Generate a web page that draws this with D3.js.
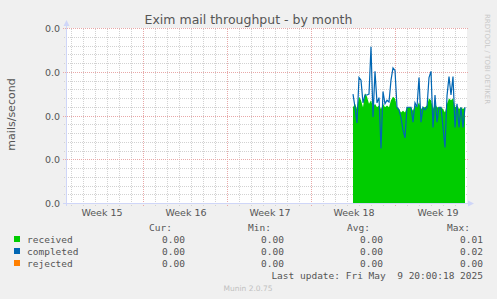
<!DOCTYPE html>
<html>
<head>
<meta charset="utf-8">
<script src="https://cdn.jsdelivr.net/npm/d3@7"></script>
<style>
body { margin: 0; background: #f0f0f0; }
svg { display: block; font-family: "DejaVu Sans", sans-serif; }
.mono { font-family: "DejaVu Sans Mono", monospace; font-size: 9.5px; fill: #555; white-space: pre; }
</style>
</head>
<body>
<div id="chart"></div>
<script>
// mails/second, one value every 4 hours from the first sample on
const received = [
  0.0110, 0.0114, 0.0108, 0.0122, 0.0118, 0.0110, 0.0126, 0.0122, 0.0114, 0.0118,
  0.0110, 0.0114, 0.0110, 0.0112, 0.0108, 0.0114, 0.0110, 0.0112, 0.0110, 0.0118,
  0.0122, 0.0120, 0.0110, 0.0108, 0.0104, 0.0106, 0.0104, 0.0110, 0.0110, 0.0110,
  0.0106, 0.0112, 0.0110, 0.0116, 0.0108, 0.0110, 0.0110, 0.0112, 0.0120, 0.0118,
  0.0108, 0.0114, 0.0110, 0.0110, 0.0110, 0.0108, 0.0104, 0.0114, 0.0120, 0.0118,
  0.0120, 0.0110, 0.0112, 0.0108, 0.0110, 0.0108, 0.0110
];
const completed = [
  0.0125, 0.0110, 0.0092, 0.0144, 0.0141, 0.0115, 0.0124, 0.0124, 0.0125, 0.0179,
  0.0099, 0.0151, 0.0115, 0.0121, 0.0063, 0.0128, 0.0114, 0.0118, 0.0116, 0.0141,
  0.0155, 0.0152, 0.0110, 0.0107, 0.0098, 0.0084, 0.0075, 0.0110, 0.0110, 0.0110,
  0.0093, 0.0115, 0.0110, 0.0144, 0.0093, 0.0110, 0.0107, 0.0110, 0.0144, 0.0151,
  0.0087, 0.0124, 0.0093, 0.0110, 0.0110, 0.0087, 0.0064, 0.0123, 0.0145, 0.0124,
  0.0145, 0.0087, 0.0114, 0.0087, 0.0110, 0.0087, 0.0110
];
const rejected = [
  0, 0, 0, 0, 0, 0, 0, 0, 0, 0,
  0, 0, 0, 0, 0, 0, 0, 0, 0, 0,
  0, 0, 0, 0, 0, 0, 0, 0, 0, 0,
  0, 0, 0, 0, 0, 0, 0, 0, 0, 0,
  0, 0, 0, 0, 0, 0, 0, 0, 0, 0,
  0, 0, 0, 0, 0, 0, 0
];
const firstSample = Date.UTC(2025, 3, 30, 11, 0, 0);
const stepHours = 4;
const graphStart = Date.UTC(2025, 3, 6, 15, 0, 0);
const graphEnd = Date.UTC(2025, 4, 9, 23, 0, 0);

const yTicks = [0, 0.005, 0.01, 0.015, 0.02];
const weekCenters = [
  Date.UTC(2025, 3, 9, 12), Date.UTC(2025, 3, 16, 12), Date.UTC(2025, 3, 23, 12),
  Date.UTC(2025, 3, 30, 12), Date.UTC(2025, 4, 7, 12)
];
const weekLabels = ["Week 15", "Week 16", "Week 17", "Week 18", "Week 19"];

const seriesNames = ["received", "completed", "rejected"];
const seriesColors = ["#00cc00", "#0066b3", "#ff8000"];
const curVals = ["0.00", "0.00", "0.00"];
const minVals = ["0.00", "0.00", "0.00"];
const avgVals = ["0.00", "0.00", "0.00"];
const maxVals = ["0.01", "0.02", "0.00"];
const lastUpdate = "Last update: Fri May  9 20:00:18 2025";

const width = 497, height = 299;
const plotLeft = 67, plotRight = 467, plotTop = 28.5, plotBottom = 203.5;

const svg = d3.select('#chart').append('svg')
  .attr('width', width)
  .attr('height', height);

svg.append('rect').attr('width', width).attr('height', height).attr('fill', '#f0f0f0');

const x = d3.scaleUtc().domain([new Date(graphStart), new Date(graphEnd)]).range([plotLeft, plotRight]);
const y = d3.scaleLinear().domain([0, 0.02]).range([plotBottom, plotTop]);
const px = v => Math.round(v - 0.5) + 0.5;

// canvas
svg.append('rect')
  .attr('x', plotLeft).attr('y', 28)
  .attr('width', plotRight - plotLeft).attr('height', 175)
  .attr('fill', '#fff');

// grid
const grid = svg.append('g').attr('shape-rendering', 'crispEdges');
const majorVals = yTicks;
y.ticks(20).filter(v => !majorVals.some(m => Math.abs(m - v) < 1e-9)).forEach(v => {
  grid.append('line')
    .attr('x1', 64).attr('x2', 468)
    .attr('y1', px(y(v))).attr('y2', px(y(v)))
    .attr('stroke', '#d2d2d2').attr('stroke-dasharray', '1,1');
});
d3.utcDay.range(new Date(graphStart), new Date(graphEnd))
  .filter(d => d.getUTCDay() !== 0)
  .forEach(d => {
    grid.append('line')
      .attr('x1', px(x(d))).attr('x2', px(x(d)))
      .attr('y1', plotTop).attr('y2', plotBottom + 2)
      .attr('stroke', '#d2d2d2').attr('stroke-dasharray', '1,1');
  });
majorVals.forEach(v => {
  grid.append('line')
    .attr('x1', 63).attr('x2', 468)
    .attr('y1', px(y(v))).attr('y2', px(y(v)))
    .attr('stroke', '#e8a8a8').attr('stroke-dasharray', '1,1');
});
d3.utcSunday.range(new Date(graphStart), new Date(graphEnd)).forEach(d => {
  grid.append('line')
    .attr('x1', px(x(d))).attr('x2', px(x(d)))
    .attr('y1', plotTop).attr('y2', plotBottom + 3)
    .attr('stroke', '#e8a8a8').attr('stroke-dasharray', '1,1');
});

// data
const times = received.map((v, i) => new Date(firstSample + i * stepHours * 3600e3));

svg.append('path')
  .datum(received)
  .attr('fill', seriesColors[0])
  .attr('d', d3.area().x((d, i) => x(times[i])).y0(y(0)).y1(d => y(d)));

svg.append('path')
  .datum(completed)
  .attr('fill', 'none')
  .attr('stroke', seriesColors[1])
  .attr('stroke-width', 1.2)
  .attr('d', d3.line().x((d, i) => x(times[i])).y(d => y(d)));

svg.append('path')
  .datum(rejected)
  .attr('fill', 'none')
  .attr('stroke', seriesColors[2])
  .attr('stroke-width', 1)
  .attr('d', d3.line().x((d, i) => x(times[i])).y(d => y(d)));

// axes lines and arrows
const axisColor = '#cfd6f8';
svg.append('line').attr('x1', 63).attr('x2', 470).attr('y1', 203.5).attr('y2', 203.5)
  .attr('stroke', axisColor);
svg.append('line').attr('x1', 66.5).attr('x2', 66.5).attr('y1', 206).attr('y2', 25)
  .attr('stroke', axisColor);
svg.append('path').attr('d', 'M468,200.5L474,203.5L468,206.5Z').attr('fill', axisColor);
svg.append('path').attr('d', 'M63.5,26L66.5,20L69.5,26Z').attr('fill', axisColor);

// tick labels
const yAxis = svg.append('g')
  .attr('transform', 'translate(66,0)')
  .call(d3.axisLeft(y).tickValues(yTicks).tickFormat(d3.format('.1f')).tickSize(0).tickPadding(6));
const xAxis = svg.append('g')
  .attr('transform', 'translate(0,203)')
  .call(d3.axisBottom(x).tickValues(weekCenters.map(d => new Date(d)))
    .tickFormat((d, i) => weekLabels[i]).tickSize(0).tickPadding(6));
[yAxis, xAxis].forEach(g => {
  g.select('.domain').remove();
  g.attr('font-family', '"DejaVu Sans", sans-serif').attr('font-size', '9.5px').style('color', '#555');
});

// title and side texts
svg.append('text')
  .attr('x', 248.5).attr('y', 24)
  .attr('text-anchor', 'middle')
  .attr('font-size', '12.5px').attr('fill', '#555')
  .text('Exim mail throughput - by month');

svg.append('text')
  .attr('transform', 'translate(15,114.5) rotate(-90)')
  .attr('text-anchor', 'middle')
  .attr('font-size', '11px').attr('fill', '#555')
  .text('mails/second');

svg.append('text')
  .attr('transform', 'translate(485,14) rotate(90)')
  .attr('font-size', '7px').attr('fill', '#c8c8c8')
  .text('RRDTOOL / TOBI OETIKER');

// legend
const colEnds = [185, 284, 383, 483];
const headers = ["Cur:", "Min:", "Avg:", "Max:"];
headers.forEach((h, i) => {
  svg.append('text').attr('class', 'mono')
    .attr('x', colEnds[i] - 13).attr('y', 231)
    .attr('text-anchor', 'end').text(h);
});
seriesNames.forEach((name, r) => {
  const base = 243 + r * 12;
  svg.append('rect')
    .attr('x', 14).attr('y', base - 7)
    .attr('width', 6).attr('height', 6)
    .attr('fill', seriesColors[r]);
  svg.append('text').attr('class', 'mono').attr('x', 27).attr('y', base).text(name);
  [curVals, minVals, avgVals, maxVals].forEach((vals, c) => {
    svg.append('text').attr('class', 'mono')
      .attr('x', colEnds[c]).attr('y', base)
      .attr('text-anchor', 'end').text(vals[r]);
  });
});
svg.append('text').attr('class', 'mono')
  .attr('x', 483).attr('y', 279)
  .attr('text-anchor', 'end').text(lastUpdate);

svg.append('text')
  .attr('x', 248).attr('y', 291)
  .attr('text-anchor', 'middle')
  .attr('font-size', '7.5px').attr('fill', '#c0c0c0')
  .text('Munin 2.0.75');
</script>
</body>
</html>
